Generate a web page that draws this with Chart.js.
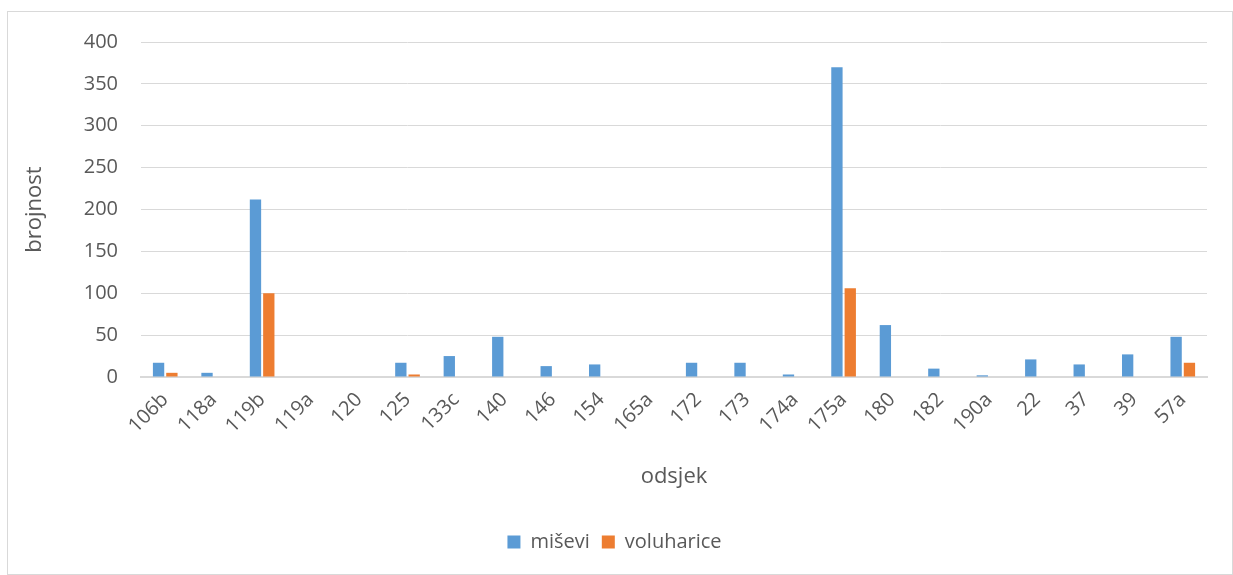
<!DOCTYPE html>
<html>
<head>
<meta charset="utf-8">
<script src="https://cdn.jsdelivr.net/npm/chart.js@4"></script>
<style>
  html, body { margin: 0; padding: 0; background: #fff; }
  #wrap { position: absolute; left: 7px; top: 11px; width: 1224px; height: 562px; border: 1px solid #d9d9d9; }
</style>
</head>
<body>
<div id="wrap"><canvas id="chart" width="1224" height="562"></canvas></div>
<script>
// podaci
const categories = ['106b', '118a', '119b', '119a', '120', '125', '133c', '140', '146', '154', '165a',
    '172', '173', '174a', '175a', '180', '182', '190a', '22', '37', '39', '57a'];
const misevi = [17, 5, 212, 0, 0, 17, 25, 48, 13, 15, 0, 17, 17, 3, 370, 62, 10, 2, 21, 15, 27, 48];
const voluharice = [5, 0, 100, 0, 0, 3, 0, 0, 0, 0, 0, 0, 0, 0, 106, 0, 0, 0, 0, 0, 0, 17];

const textColor = '#595959';
const gridColor = '#d9d9d9';
Chart.defaults.font.family = '"Open Sans", sans-serif';

const ctx = document.getElementById('chart').getContext('2d');
new Chart(ctx, {
    type: 'bar',
    data: {
        labels: categories,
        datasets: [
            { label: 'miševi', data: misevi, backgroundColor: '#5b9bd5' },
            { label: 'voluharice', data: voluharice, backgroundColor: '#ed7d31' }
        ]
    },
    options: {
        responsive: false,
        animation: false,
        categoryPercentage: 0.55,
        barPercentage: 0.85,
        layout: { padding: { left: 14, top: 30, right: 25, bottom: 12 } },
        plugins: {
            legend: {
                position: 'bottom',
                labels: { color: textColor, font: { size: 20 }, boxWidth: 13, boxHeight: 13, padding: 12 }
            },
            tooltip: { enabled: false }
        },
        scales: {
            x: {
                grid: { display: false },
                border: { color: gridColor, width: 2 },
                ticks: { color: textColor, font: { size: 20 }, minRotation: 45, maxRotation: 45, autoSkip: false },
                title: { display: true, text: 'odsjek', color: textColor, font: { size: 22 }, padding: { top: 0, bottom: 30 } },
                afterFit: (axis) => { axis.height = 143; }
            },
            y: {
                min: 0,
                max: 400,
                ticks: { stepSize: 50, color: textColor, font: { size: 20 }, padding: 23 },
                grid: { color: gridColor, drawTicks: false },
                border: { display: false },
                title: { display: true, text: 'brojnost', color: textColor, font: { size: 22 }, padding: 0 },
                afterFit: (axis) => {
                    axis.width = 119;
                    axis.paddingTop = 0;
                    axis.paddingBottom = 0;
                }
            }
        }
    }
});
</script>
</body>
</html>
